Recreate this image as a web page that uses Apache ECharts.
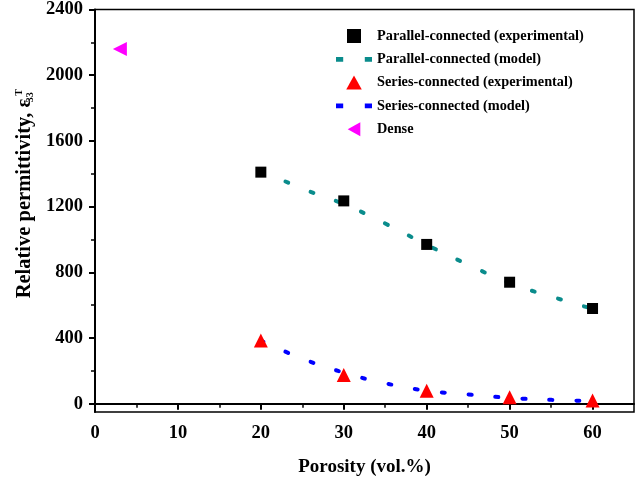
<!DOCTYPE html>
<html>
<head>
<meta charset="utf-8">
<script src="https://cdn.jsdelivr.net/npm/echarts@6/dist/echarts.min.js"></script>
<style>
html, body { margin: 0; padding: 0; background: #fff; }
#main { width: 636px; height: 486px; }
</style>
</head>
<body>
<div id="main"></div>
<script>
// 数据
var porosity = [20, 30, 40, 50, 60];
var parallelExp = [1410, 1235, 970, 740, 580];
var seriesExp = [385, 175, 80, 40, 20];
var modelPorosity = [20, 25, 30, 35, 40, 45, 50, 55, 60];
var parallelModel = [1420, 1310, 1215, 1097, 968, 847, 735, 653, 578];
var seriesModel = [385, 275, 190, 125, 80, 57, 36, 24, 17];
var densePorosity = [3];
var denseValue = [2160];
var xTicks = [0, 10, 20, 30, 40, 50, 60];
var xMinor = [5, 15, 25, 35, 45, 55];
var yTicks = [0, 400, 800, 1200, 1600, 2000, 2400];
var yMinor = [200, 600, 1000, 1400, 1800, 2200];

function pairs(xs, ys) {
    return xs.map(function (x, i) { return [x, ys[i]]; });
}

var font = 'Liberation Serif';
// 图例图标(保持比例)
var iconSquare = 'path://M0,0H10V10H0Z';
var iconTri = 'path://M5,0L10,9H0Z';
var iconLeftTri = 'path://M0,5L9,0V10Z';
var iconDots = 'path://M0,0h6v4h-6z M24,0h6v4h-6z';

var chart = echarts.init(document.getElementById('main'));

var option = {
    animation: false,
    grid: {
        left: 95,
        top: 9,
        right: 2,
        bottom: 74,
        show: true,
        borderColor: '#000',
        borderWidth: 1.5
    },
    legend: {
        orient: 'vertical',
        left: 331,
        top: 24,
        itemWidth: 36,
        itemHeight: 14,
        itemGap: 9.3,
        symbolKeepAspect: true,
        textStyle: {
            fontFamily: font,
            fontWeight: 'bold',
            fontSize: 14.3,
            color: '#000'
        },
        data: [
            { name: 'Parallel-connected (experimental)', icon: iconSquare },
            { name: 'Parallel-connected (model)', icon: iconDots },
            { name: 'Series-connected (experimental)', icon: iconTri },
            { name: 'Series-connected (model)', icon: iconDots },
            { name: 'Dense', icon: iconLeftTri }
        ]
    },
    xAxis: [{
        type: 'value',
        min: 0,
        max: 65,
        name: 'Porosity (vol.%)',
        nameLocation: 'middle',
        nameGap: 46,
        nameTextStyle: { fontFamily: font, fontWeight: 'bold', fontSize: 19, color: '#000' },
        axisLine: { lineStyle: { color: '#000', width: 2 } },
        axisTick: { length: 6, lineStyle: { width: 2, color: '#000' }, customValues: xTicks },
        axisLabel: {
            customValues: xTicks,
            margin: 12,
            formatter: function (v) { return String(v); },
            fontFamily: font, fontWeight: 'bold', fontSize: 18.5, color: '#000'
        },
        splitLine: { show: false }
    }, {
        // 次刻度
        type: 'value',
        min: 0,
        max: 65,
        position: 'bottom',
        axisLine: { show: false },
        axisTick: { length: 4, lineStyle: { width: 1.5, color: '#000' }, customValues: xMinor },
        axisLabel: { show: false },
        splitLine: { show: false }
    }],
    yAxis: [{
        type: 'value',
        min: -50,
        max: 2400,
        name: 'Relative permittivity, ε{sub|33}{sup|T}',
        nameLocation: 'middle',
        nameGap: 52,
        nameTextStyle: {
            fontFamily: font, fontWeight: 'bold', fontSize: 20.5, color: '#000',
            padding: [0, 0, 0, 34],
            rich: {
                sub: { fontFamily: font, fontWeight: 'bold', fontSize: 10, color: '#000', verticalAlign: 'bottom', padding: [10, 0, 0, 0], width: 3 },
                sup: { fontFamily: font, fontWeight: 'bold', fontSize: 10, color: '#000', verticalAlign: 'top', padding: [0, 0, 10, 0] }
            }
        },
        axisLine: { lineStyle: { color: '#000', width: 2 } },
        axisTick: { length: 6, lineStyle: { width: 2, color: '#000' }, customValues: yTicks },
        axisLabel: {
            customValues: yTicks,
            margin: 12,
            formatter: function (v) { return String(v); },
            fontFamily: font, fontWeight: 'bold', fontSize: 18.5, color: '#000'
        },
        splitLine: { show: false }
    }, {
        type: 'value',
        min: -50,
        max: 2400,
        position: 'left',
        axisLine: { show: false },
        axisTick: { length: 4, lineStyle: { width: 1.5, color: '#000' }, customValues: yMinor },
        axisLabel: { show: false },
        splitLine: { show: false }
    }],
    series: [{
        name: 'Parallel-connected (model)',
        type: 'line',
        smooth: true,
        showSymbol: false,
        symbol: 'none',
        data: pairs(modelPorosity, parallelModel),
        itemStyle: { color: '#0a8c8c' },
        lineStyle: { color: '#0a8c8c', width: 4, type: [3, 24], cap: 'round' },
        z: 2
    }, {
        name: 'Series-connected (model)',
        type: 'line',
        smooth: true,
        showSymbol: false,
        symbol: 'none',
        data: pairs(modelPorosity, seriesModel),
        itemStyle: { color: '#0000ff' },
        lineStyle: { color: '#0000ff', width: 4, type: [3, 24], cap: 'round' },
        z: 2
    }, {
        name: 'Parallel-connected (experimental)',
        type: 'scatter',
        symbol: 'rect',
        symbolSize: 11,
        data: pairs(porosity, parallelExp),
        itemStyle: { color: '#000', opacity: 1 },
        z: 3
    }, {
        name: 'Series-connected (experimental)',
        type: 'scatter',
        symbol: 'triangle',
        symbolSize: 14,
        data: pairs(porosity, seriesExp),
        itemStyle: { color: '#ff0000', opacity: 1 },
        z: 3
    }, {
        name: 'Dense',
        type: 'scatter',
        symbol: 'triangle',
        symbolRotate: 90,
        symbolSize: 14,
        data: pairs(densePorosity, denseValue),
        itemStyle: { color: '#ff00ff', opacity: 1 },
        z: 3
    }]
};
chart.setOption(option);
</script>
</body>
</html>
